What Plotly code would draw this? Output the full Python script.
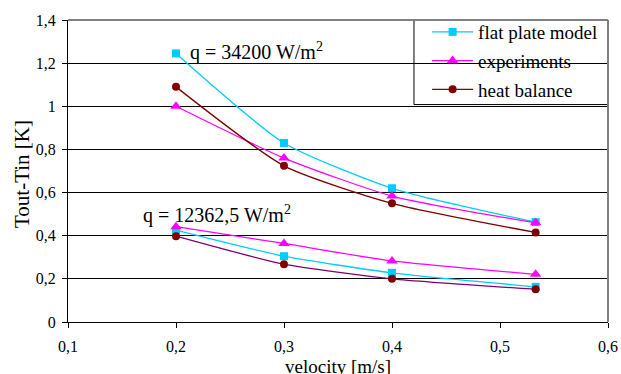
import plotly.graph_objects as go

velocity = [0.2, 0.3, 0.4, 0.533]

# q = 34200 W/m2
flat_high = [1.245, 0.83, 0.62, 0.463]
exp_high = [1.0, 0.76, 0.584, 0.46]
heat_high = [1.09, 0.724, 0.55, 0.415]

# q = 12362,5 W/m2
flat_low = [0.426, 0.305, 0.228, 0.163]
exp_low = [0.442, 0.364, 0.283, 0.221]
heat_low = [0.398, 0.268, 0.2, 0.152]

y_ticks = [0, 0.2, 0.4, 0.6, 0.8, 1.0, 1.2, 1.4]
x_ticks = [0.1, 0.2, 0.3, 0.4, 0.5, 0.6]

CYAN = "#00CCFF"
MAG = "#FF00FF"
DRED = "#800000"
PURP = "#800070"
FONT = "Times New Roman"

fig = go.Figure()

def add(y, name, color, lcolor, symbol, size, show):
    fig.add_trace(go.Scatter(
        x=velocity, y=y, name=name, legendgroup=name, showlegend=show,
        mode="lines+markers",
        line=dict(color=lcolor, width=1.3, shape="spline", smoothing=0.6),
        marker=dict(color=color, symbol=symbol, size=size, line=dict(width=0)),
    ))

add(flat_high, "flat plate model", CYAN, CYAN, "square", 8, True)
add(exp_high, "experiments", MAG, MAG, "triangle-up", 10, True)
add(heat_high, "heat balance", DRED, DRED, "circle", 8, True)
add(flat_low, "flat plate model", CYAN, CYAN, "square", 8, False)
add(exp_low, "experiments", MAG, MAG, "triangle-up", 10, False)
add(heat_low, "heat balance", DRED, PURP, "circle", 8, False)

fig.update_layout(
    width=621, height=374,
    margin=dict(l=68, r=13, t=20, b=52),
    paper_bgcolor="white", plot_bgcolor="white",
    separators=",.",
    font=dict(family=FONT, size=16, color="black"),
    showlegend=True,
    legend=dict(x=0.665, y=1.023, xanchor="left", yanchor="top",
                bgcolor="rgba(0,0,0,0)", borderwidth=0,
                font=dict(family=FONT, size=19), traceorder="grouped",
                tracegroupgap=1, itemwidth=41),
    xaxis=dict(range=[0.1, 0.6], tickvals=x_ticks, showgrid=False,
               showline=True, linecolor="black", linewidth=1,
               ticks="outside", ticklen=5, tickcolor="black",
               tickfont=dict(family=FONT, size=16), zeroline=False,
               ticklabelstandoff=5, automargin=False),
    yaxis=dict(range=[0, 1.4], tickvals=y_ticks, showgrid=True,
               gridcolor="black", gridwidth=1,
               showline=True, linecolor="black", linewidth=1,
               ticks="outside", ticklen=5, tickcolor="black",
               tickfont=dict(family=FONT, size=16), zeroline=False,
               ticklabelstandoff=3, automargin=False),
    shapes=[
        dict(type="line", xref="paper", yref="paper", x0=0, x1=1, y0=1, y1=1,
             line=dict(color="#808080", width=2)),
        dict(type="line", xref="paper", yref="paper", x0=1, x1=1, y0=0, y1=1,
             line=dict(color="#808080", width=2)),
        dict(type="rect", xref="paper", yref="paper", x0=0.6407, x1=1, y0=0.72, y1=1,
             line=dict(color="black", width=1), fillcolor="white", layer="below"),
    ],
    annotations=[
        dict(text="Tout-Tin [K]", x=22, y=174, xref="paper", yref="paper",
             xanchor="center", yanchor="middle",
             showarrow=False, textangle=-90, font=dict(family=FONT, size=21)),
        dict(text="velocity [m/s]", x=338, y=366, xref="paper", yref="paper",
             xanchor="center", yanchor="middle",
             showarrow=False, font=dict(family=FONT, size=19)),
        dict(text="q = 34200 W/m<sup>2</sup>", x=0.2111, y=1.256, xref="x", yref="y",
             xanchor="left", yanchor="middle", showarrow=False,
             font=dict(family=FONT, size=20)),
        dict(text="q = 12362,5 W/m<sup>2</sup>", x=0.1676, y=0.5, xref="x", yref="y",
             xanchor="left", yanchor="middle", showarrow=False,
             font=dict(family=FONT, size=20)),
    ],
)

# convert pixel-positioned axis-title annotations to paper coords
W, H, L, R, T, B = 621, 374, 68, 13, 20, 52
pw, ph = W - L - R, H - T - B
for a in fig.layout.annotations[:2]:
    a.x = (a.x - L) / pw
    a.y = (H - B - a.y) / ph

fig.write_html("out.html")
